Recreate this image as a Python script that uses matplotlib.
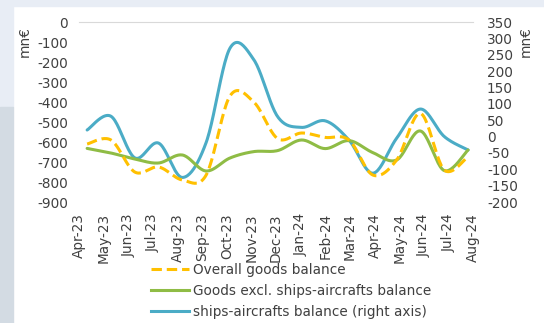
import numpy as np
import matplotlib.pyplot as plt
from matplotlib.patches import Rectangle
from matplotlib.lines import Line2D

# --- data (mn EUR) ---
months = ['Apr-23', 'May-23', 'Jun-23', 'Jul-23', 'Aug-23', 'Sep-23', 'Oct-23', 'Nov-23',
          'Dec-23', 'Jan-24', 'Feb-24', 'Mar-24', 'Apr-24', 'May-24', 'Jun-24', 'Jul-24', 'Aug-24']
overall = [-610, -590, -750, -725, -790, -765, -370, -400,
           -583, -555, -577, -590, -765, -690, -457, -740, -673]
excl_ships = [-632, -655, -685, -705, -665, -745, -680, -648,
              -643, -590, -633, -593, -653, -690, -545, -743, -640]
ships = [20, 62, -65, -20, -125, -18, 270, 235,
         61, 28, 48, -11, -112, -5, 84, 0, -41]

YELLOW = '#ffc000'
GREEN = '#8fbc45'
BLUE = '#4bacc6'
TXT = '#404040'
FS = 9.8

plt.rcParams['font.family'] = ['DejaVu Sans']
plt.rcParams['font.size'] = FS
plt.rcParams['axes.unicode_minus'] = False

W, H = 544, 323
fig = plt.figure(figsize=(W / 100, H / 100), dpi=100)
fig.patch.set_facecolor('white')

# page background pieces
fig.add_artist(Rectangle((0, 1 - 6 / H), 1, 6 / H, transform=fig.transFigure,
                         color='#e8edf5', zorder=0))
fig.add_artist(Rectangle((0, 1 - 107 / H), 13 / W, 107 / H, transform=fig.transFigure,
                         color='#e8edf5', zorder=0))
fig.add_artist(Rectangle((0, 0), 13 / W, 1 - 107 / H, transform=fig.transFigure,
                         color='#d3dbe3', zorder=0))

# plot box in pixels: x 79..473, y 22..202
ax = fig.add_axes([79 / W, 1 - 202 / H, (473 - 79) / W, 180 / H])
ax2 = ax.twinx()
ax.set_xlim(0, len(months) - 1)
ax.set_ylim(-900, 0)
ax2.set_ylim(-200, 350)

# data points sit a bit off the month ticks in the original
x = np.linspace(0.33, 15.8, len(months))


def smooth(xv, yv, sx, sy, n=24):
    # parametric catmull-rom / bezier like excel's smoothed line
    P = np.column_stack([np.asarray(xv) * sx, np.asarray(yv, float) * sy])
    P = np.vstack([P[0], P, P[-1]])
    out = []
    t = np.linspace(0, 1, n)[:, None]
    for i in range(1, len(P) - 2):
        p0, p1, p2, p3 = P[i - 1], P[i], P[i + 1], P[i + 2]
        c1 = p1 + (p2 - p0) / 6
        c2 = p2 - (p3 - p1) / 6
        seg = (1 - t) ** 3 * p1 + 3 * (1 - t) ** 2 * t * c1 + 3 * (1 - t) * t ** 2 * c2 + t ** 3 * p2
        out.append(seg if i == 1 else seg[1:])
    out = np.vstack(out)
    return out[:, 0] / sx, out[:, 1] / sy


LW = 2.2
DASH = (3.4, 1.6)
sx = 394 / 16
xs, ys = smooth(x, ships, sx, 180 / 550)
ax2.plot(xs, ys, color=BLUE, lw=LW, solid_capstyle='round', zorder=3)
xs, ys = smooth(x, excl_ships, sx, 180 / 900)
ax.plot(xs, ys, color=GREEN, lw=LW, solid_capstyle='round', zorder=3)
xs, ys = smooth(x, overall, sx, 180 / 900)
ax.plot(xs, ys, color=YELLOW, lw=LW, dashes=DASH, zorder=4)
ax.set_zorder(ax2.get_zorder() + 1)
ax.patch.set_visible(False)

# axes styling
for a in (ax, ax2):
    for s in ['left', 'right', 'bottom', 'top']:
        a.spines[s].set_visible(False)
ax2.spines['top'].set_visible(True)
ax2.spines['top'].set_color('#d9d9d9')
ax2.spines['top'].set_linewidth(0.8)

ax.set_yticks(np.arange(-900, 1, 100))
ax.tick_params(axis='y', length=0, pad=8, colors=TXT, labelsize=FS)
ax2.set_yticks(np.arange(-200, 351, 50))
ax2.tick_params(axis='y', length=0, pad=10, colors=TXT, labelsize=FS)

ax.set_xticks(range(len(months)))
ax.set_xticklabels(months, rotation=90, color=TXT, fontsize=FS)
ax.tick_params(axis='x', length=0, pad=8)
ax2.set_xticks(range(len(months)))
ax2.tick_params(axis='x', which='both', bottom=False, labelbottom=False,
                top=True, labeltop=False, direction='in', length=3.5, color='#d9d9d9')

fig.text(25 / W, 1 - 42 / H, 'mn€', rotation=90, ha='center', va='center',
         color=TXT, fontsize=FS)
fig.text(526 / W, 1 - 42 / H, 'mn€', rotation=90, ha='center', va='center',
         color=TXT, fontsize=FS)

handles = [Line2D([], [], color=YELLOW, lw=LW, dashes=DASH),
           Line2D([], [], color=GREEN, lw=LW),
           Line2D([], [], color=BLUE, lw=LW)]
labels = ['Overall goods balance', 'Goods excl. ships-aircrafts balance',
          'ships-aircrafts balance (right axis)']
leg = fig.legend(handles, labels, loc='upper left', bbox_to_anchor=(151 / W, 1 - 263 / H),
                 frameon=False, fontsize=FS, handlelength=2.8, handletextpad=0.3,
                 labelspacing=0.5, borderpad=0, borderaxespad=0)
for t in leg.get_texts():
    t.set_color(TXT)

fig.savefig('out.png', dpi=100)
